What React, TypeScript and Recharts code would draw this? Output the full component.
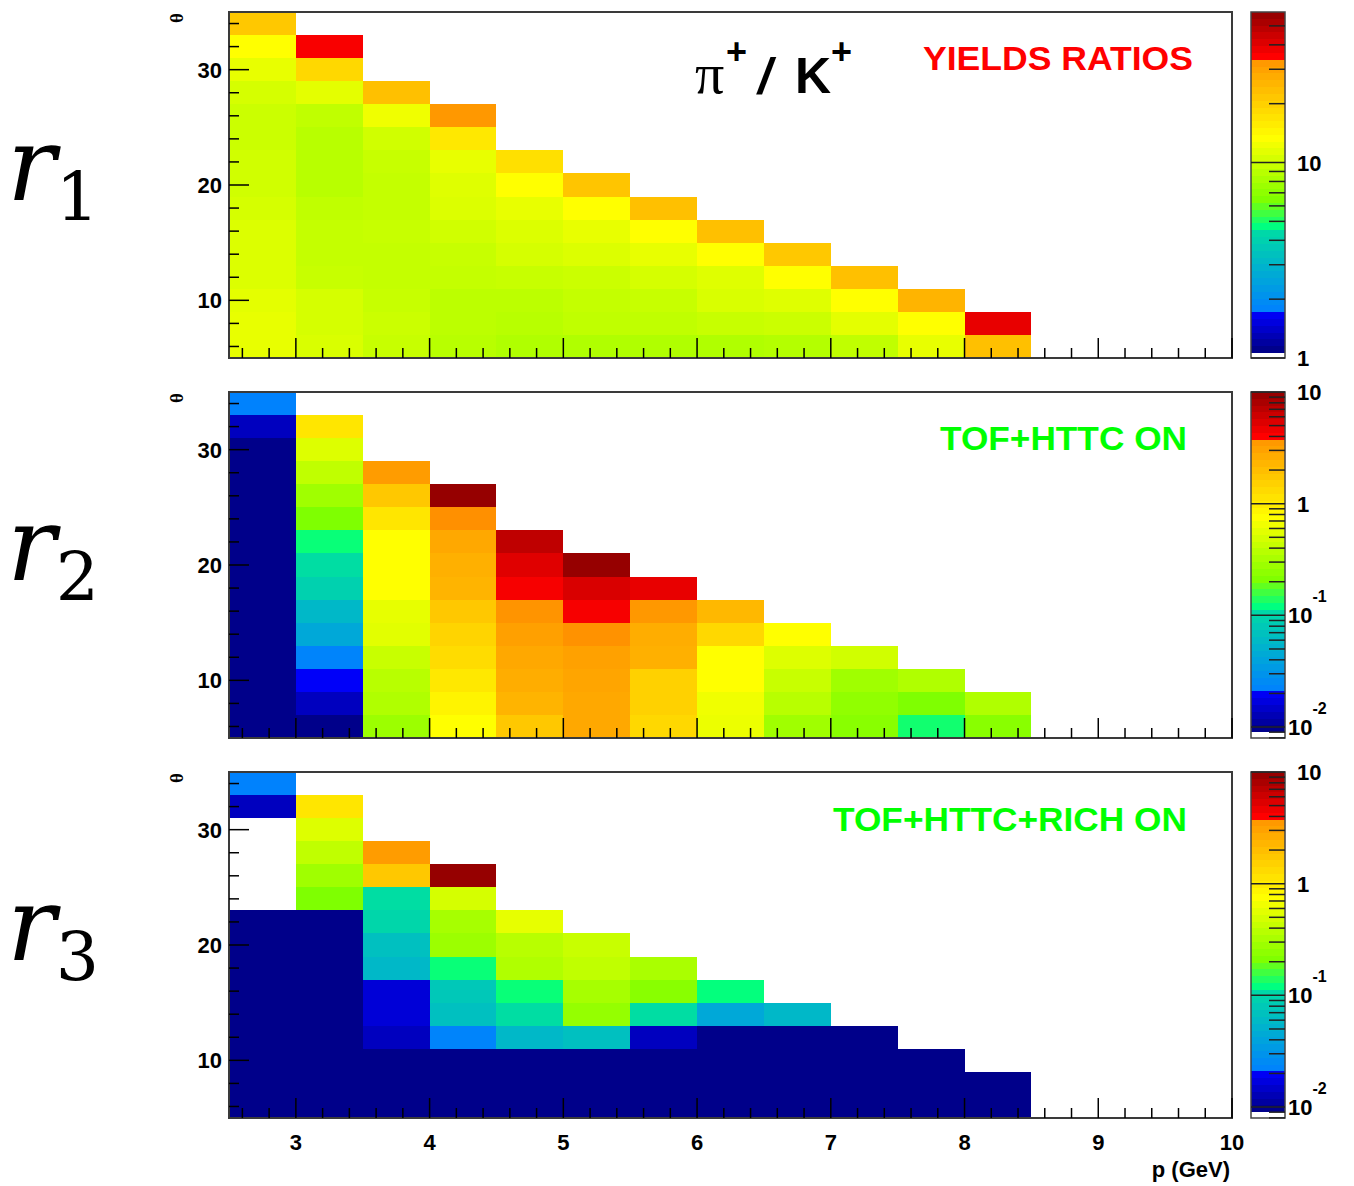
import React from "react";
import { ScatterChart, Scatter, XAxis, YAxis, ReferenceArea } from "recharts";

// momentum bins (GeV): lower edges, 0.5 GeV wide
const pBins = [2.5, 3, 3.5, 4, 4.5, 5, 5.5, 6, 6.5, 7, 7.5, 8];
const pBinWidth = 0.5;
// polar angle bins (deg): lower edges, 2 deg wide
const thetaBins = [5, 7, 9, 11, 13, 15, 17, 19, 21, 23, 25, 27, 29, 31, 33];
const thetaBinWidth = 2;

const pRange = [2.5, 10];
const thetaRange = [5, 35];
const pLabels = [3, 4, 5, 6, 7, 8, 9, 10];
const thetaLabels = [10, 20, 30];

// lowest filled level of the PID ratios
const F = 0.0096;

// one array per p bin, values from the lowest theta bin upward
const yieldsRatio = [
  [11.7, 11.7, 11.4, 10.9, 10.9, 10.9, 10.5, 10.2, 10.2, 9.9, 9.9, 10.5, 11.7, 13.3, 21.5],
  [10.7, 10.5, 10.5, 9.7, 9.5, 9.5, 9.3, 8.9, 8.9, 8.9, 9.3, 11.4, 18.7, 36],
  [9.7, 9.9, 9.7, 9.5, 9.5, 9.7, 9.5, 9.5, 9.7, 10.2, 12.2, 23],
  [8.9, 9.1, 9.1, 9.5, 9.7, 10.2, 10.9, 11.1, 11.7, 16.3, 32.6],
  [8.5, 8.9, 9.1, 9.7, 10.5, 10.9, 11.7, 13.3, 17.4],
  [8.5, 9.3, 9.5, 9.9, 10.9, 11.7, 13.3, 22],
  [8.5, 9.3, 9.7, 10.5, 11.7, 13.3, 23],
  [8.5, 9.7, 10.7, 11.1, 13.3, 23],
  [8.7, 9.9, 11.1, 13.3, 21.5],
  [9.3, 11.4, 13.3, 23],
  [11.7, 13.3, 25.5],
  [23, 39],
];

const tofHttc = [
  [F, F, F, F, F, F, F, F, F, F, F, F, F, 0.0137, 0.0216],
  [0.0096, 0.0137, 0.0201, 0.0224, 0.043, 0.058, 0.091, 0.114, 0.125, 0.21, 0.29, 0.4, 0.53, 1.09],
  [0.28, 0.34, 0.37, 0.43, 0.56, 0.59, 0.75, 0.75, 0.75, 1.09, 1.72, 3.35],
  [0.75, 0.88, 1.06, 1.27, 1.43, 1.72, 2.32, 2.46, 2.79, 4.0, 9.5],
  [1.72, 2.32, 2.6, 2.79, 3.14, 3.8, 4.3, 5.2, 6.8],
  [2.8, 2.8, 2.9, 3.1, 3.9, 4.3, 5.5, 9.5],
  [1.35, 1.51, 1.51, 2.46, 2.6, 3.56, 4.85],
  [0.62, 0.64, 0.75, 0.75, 1.35, 2.2],
  [0.29, 0.37, 0.43, 0.53, 0.75],
  [0.23, 0.25, 0.29, 0.47],
  [0.13, 0.21, 0.34],
  [0.23, 0.34],
];

const tofHttcRich = [
  [F, F, F, F, F, F, F, F, F, null, null, null, null, 0.0137, 0.0216],
  [F, F, F, F, F, F, F, F, F, 0.21, 0.29, 0.4, 0.53, 1.09],
  [F, F, F, 0.0137, 0.016, 0.016, 0.058, 0.067, 0.1, 0.114, 1.72, 3.35],
  [F, F, F, 0.0224, 0.067, 0.078, 0.125, 0.28, 0.31, 0.49, 9.5],
  [F, F, F, 0.058, 0.114, 0.125, 0.34, 0.37, 0.59],
  [F, F, F, 0.067, 0.26, 0.31, 0.4, 0.43],
  [F, F, F, 0.0137, 0.114, 0.23, 0.32],
  [F, F, F, F, 0.043, 0.122],
  [F, F, F, F, 0.058],
  [F, F, F, F],
  [F, F, F],
  [F, F],
];

// colour axis in log10(z): [axis bottom, first colour level, top]
const zYields = [0, 0.025, 1.77];
const zPid = [-2.098, -2.046, 1];

// rainbow palette, position 0..1 -> colour (hard steps kept as close stop pairs)
const paletteStops: [number, string][] = [
  [0, "#000080"],
  [0.12, "#0000ff"],
  [0.1201, "#0080ff"],
  [0.3699, "#00e0a0"],
  [0.37, "#00ff80"],
  [0.45, "#80ff00"],
  [0.63, "#ffff00"],
  [0.8699, "#ff9000"],
  [0.87, "#ff0000"],
  [1, "#900000"],
];

const hexRgb = (h: string) => {
  const n = parseInt(h.slice(1), 16);
  return [(n >> 16) & 255, (n >> 8) & 255, n & 255];
};

function paletteColor(t: number) {
  const c = Math.min(1, Math.max(0, t));
  for (let k = 1; k < paletteStops.length; k++) {
    const [t1, h1] = paletteStops[k];
    if (c <= t1) {
      const [t0, h0] = paletteStops[k - 1];
      const f = (c - t0) / (t1 - t0);
      const a = hexRgb(h0);
      const b = hexRgb(h1);
      const m = a.map((v, i) => Math.round(v + (b[i] - v) * f));
      return `rgb(${m[0]},${m[1]},${m[2]})`;
    }
  }
  return paletteStops[paletteStops.length - 1][1];
}

const PLOT_LEFT = 229;
const PLOT_RIGHT = 1232;
const PLOT_H = 346;
const panelTops = [12, 392, 772];
const BAR_W = 34;

const labelFont = {
  fontFamily: "'Liberation Sans', Arial, sans-serif",
  fontWeight: 700,
  fontSize: 22,
  fill: "#000",
};

const xTicks: number[] = [];
for (let k = 13; k <= 50; k++) xTicks.push(k / 5);
const yTicks: number[] = [];
for (let k = 6; k <= 34; k += 2) yTicks.push(k);

const makeXTick = (withLabels: boolean) => (props: any) => {
  const { x, y, payload } = props;
  const v = payload.value;
  const major = Math.abs(v - Math.round(v)) < 1e-6;
  return (
    <g>
      <line x1={x} x2={x} y1={y} y2={y - (major ? 20 : 10)} stroke="#000" strokeWidth={1.5} />
      {withLabels && major && pLabels.includes(Math.round(v)) && (
        <text x={x} y={y + 32} textAnchor="middle" style={labelFont}>
          {Math.round(v)}
        </text>
      )}
    </g>
  );
};

const YTick = (props: any) => {
  const { x, y, payload } = props;
  const v = payload.value;
  const major = thetaLabels.includes(v);
  return (
    <g>
      <line x1={x} x2={x + (major ? 20 : 10)} y1={y} y2={y} stroke="#000" strokeWidth={1.5} />
      {major && (
        <text x={x - 7} y={y + 8} textAnchor="end" style={labelFont}>
          {v}
        </text>
      )}
    </g>
  );
};

const ZTick = (props: any) => {
  const { x, y, payload } = props;
  const v = payload.value;
  const e = Math.round(v);
  const major = Math.abs(v - e) < 1e-6;
  return (
    <g>
      <line x1={x} x2={x - (major ? BAR_W : 16)} y1={y} y2={y} stroke="#222" strokeWidth={1.5} />
      {major &&
        (e < 0 ? (
          <text x={x + 3} y={y + 8} style={labelFont}>
            10
            <tspan dy={-21} fontSize={16}>
              {e}
            </tspan>
          </text>
        ) : (
          <text x={x + 12} y={y + 8} style={labelFont}>
            {e === 0 ? "1" : "1" + "0".repeat(e)}
          </text>
        ))}
    </g>
  );
};

function HeatPanel({ values, z, top, withLabels }: any) {
  const [, lo, hi] = z;
  const cells: any[] = [];
  values.forEach((col: (number | null)[], i: number) =>
    col.forEach((v, j) => {
      if (v == null) return;
      cells.push({
        p: pBins[i] + pBinWidth / 2,
        theta: thetaBins[j] + thetaBinWidth / 2,
        x1: pBins[i],
        x2: pBins[i] + pBinWidth,
        y1: thetaBins[j],
        y2: thetaBins[j] + thetaBinWidth,
        color: paletteColor((Math.log10(v) - lo) / (hi - lo)),
      });
    })
  );
  const yAxisW = 60;
  return (
    <div style={{ position: "absolute", left: 0, top: top - 12 }}>
      <ScatterChart
        width={1250}
        height={12 + PLOT_H + 50}
        margin={{ top: 12, right: 1250 - PLOT_RIGHT, bottom: 0, left: PLOT_LEFT - yAxisW }}
      >
        {cells.map((c, k) => (
          <ReferenceArea
            key={k}
            x1={c.x1}
            x2={c.x2}
            y1={c.y1}
            y2={c.y2}
            fill={c.color}
            fillOpacity={1}
            stroke="none"
            shapeRendering="crispEdges"
          />
        ))}
        <Scatter data={cells} dataKey="theta" isAnimationActive={false} shape={() => <g />} />
        <ReferenceArea
          x1={pRange[0]}
          x2={pRange[1]}
          y1={thetaRange[0]}
          y2={thetaRange[1]}
          fill="none"
          stroke="#3a3a3a"
          strokeWidth={2}
        />
        <XAxis
          type="number"
          dataKey="p"
          domain={pRange}
          allowDataOverflow
          ticks={xTicks}
          interval={0}
          height={50}
          tickSize={0}
          tickMargin={0}
          tickLine={false}
          axisLine={false}
          tick={makeXTick(withLabels)}
        />
        <YAxis
          type="number"
          dataKey="theta"
          domain={thetaRange}
          allowDataOverflow
          ticks={yTicks}
          interval={0}
          width={yAxisW}
          tickSize={0}
          tickMargin={0}
          tickLine={false}
          axisLine={false}
          tick={YTick}
        />
      </ScatterChart>
    </div>
  );
}

function ColourBar({ z, top }: any) {
  const [axisLo, lo, hi] = z;
  const n = 50;
  const bands = [];
  for (let i = 0; i < n; i++) {
    bands.push({
      y1: lo + ((hi - lo) * i) / n,
      y2: lo + ((hi - lo) * (i + 1)) / n,
      color: paletteColor((i + 0.5) / n),
    });
  }
  const ticks: number[] = [];
  for (let d = Math.floor(axisLo); d <= Math.ceil(hi); d++) {
    for (let m = 1; m <= 9; m++) {
      const v = d + Math.log10(m);
      if (v >= axisLo - 1e-6 && v <= hi + 1e-6) ticks.push(v);
    }
  }
  return (
    <div style={{ position: "absolute", left: 1240, top: top - 12 }}>
      <ScatterChart width={110} height={PLOT_H + 24} margin={{ top: 12, right: 0, bottom: 12, left: 11 }}>
        {bands.map((b, k) => (
          <ReferenceArea
            key={k}
            x1={0}
            x2={1}
            y1={b.y1}
            y2={b.y2}
            fill={b.color}
            fillOpacity={1}
            stroke="none"
            shapeRendering="crispEdges"
          />
        ))}
        <Scatter data={[{ u: 0.5, z: hi }]} dataKey="z" isAnimationActive={false} shape={() => <g />} />
        <ReferenceArea x1={0} x2={1} y1={axisLo} y2={hi} fill="none" stroke="#444" strokeWidth={1.5} />
        <XAxis type="number" dataKey="u" domain={[0, 1]} hide />
        <YAxis
          type="number"
          dataKey="z"
          orientation="right"
          domain={[axisLo, hi]}
          allowDataOverflow
          ticks={ticks}
          interval={0}
          width={65}
          tickSize={0}
          tickMargin={0}
          tickLine={false}
          axisLine={false}
          tick={ZTick}
        />
      </ScatterChart>
    </div>
  );
}

const panels = [
  { values: yieldsRatio, z: zYields },
  { values: tofHttc, z: zPid },
  { values: tofHttcRich, z: zPid },
];

export default function App() {
  const sans = "'Liberation Sans', Arial, sans-serif";
  return (
    <div style={{ position: "absolute", left: 0, top: 0, width: 1354, height: 1186, background: "#fff" }}>
      {panels.map((pn, i) => (
        <HeatPanel key={i} values={pn.values} z={pn.z} top={panelTops[i]} withLabels={i === 2} />
      ))}
      {panels.map((pn, i) => (
        <ColourBar key={i} z={pn.z} top={panelTops[i]} />
      ))}
      <svg
        width={1354}
        height={1186}
        style={{ position: "absolute", left: 0, top: 0, pointerEvents: "none" }}
      >
        {panelTops.map((t, i) => (
          <g key={i}>
            <text x={7} y={t + 188} fontFamily="'DejaVu Serif', serif" fontStyle="italic" fontSize={102}>
              r
              <tspan dy={20} fontStyle="normal" fontSize={68}>
                {i + 1}
              </tspan>
            </text>
            <text
              x={176}
              y={t + 6}
              transform={`rotate(-90 176 ${t + 6})`}
              textAnchor="middle"
              dominantBaseline="central"
              fontFamily="'Liberation Serif', serif"
              fontWeight={700}
              fontSize={19}
            >
              θ
            </text>
          </g>
        ))}
        <text x={695} y={93} fontFamily="'Liberation Serif', serif" fontSize={58}>
          π
        </text>
        <text x={726} y={64} fontFamily={sans} fontWeight={700} fontSize={36}>
          +
        </text>
        <text x={758} y={93} fontFamily={sans} fontWeight={700} fontStyle="italic" fontSize={50}>
          /
        </text>
        <text x={795} y={93} fontFamily={sans} fontWeight={700} fontSize={50}>
          K
        </text>
        <text x={831} y={64} fontFamily={sans} fontWeight={700} fontSize={36}>
          +
        </text>
        <text x={923} y={70} fontFamily={sans} fontWeight={700} fontSize={34} fill="#ff0000" textLength={270} lengthAdjust="spacingAndGlyphs">
          YIELDS RATIOS
        </text>
        <text x={940} y={450} fontFamily={sans} fontWeight={700} fontSize={34} fill="#00ff00" textLength={247} lengthAdjust="spacingAndGlyphs">
          TOF+HTTC ON
        </text>
        <text x={833} y={831} fontFamily={sans} fontWeight={700} fontSize={34} fill="#00ff00" textLength={354} lengthAdjust="spacingAndGlyphs">
          TOF+HTTC+RICH ON
        </text>
        <text x={1230} y={1177} textAnchor="end" fontFamily={sans} fontWeight={700} fontSize={22}>
          p (GeV)
        </text>
      </svg>
    </div>
  );
}
